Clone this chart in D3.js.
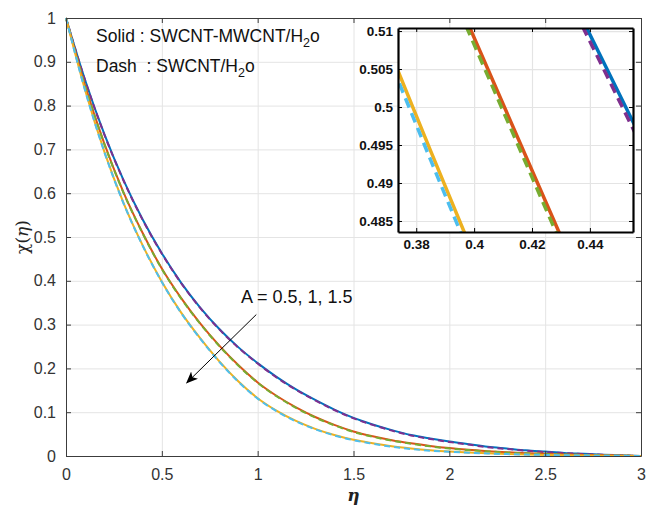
<!DOCTYPE html>
<html lang="en">
<head>
  <meta charset="UTF-8">
  <title>chi(eta) profiles</title>
  <script src="https://cdn.jsdelivr.net/npm/d3@7"></script>
  <style>
    body { margin: 0; background: #fff; }
    svg { display: block; font-family: "Liberation Sans", Arial, sans-serif; }
  </style>
</head>
<body>
<script>
  // eta grid for the main plot
  const eta = [0, 0.1, 0.2, 0.3, 0.4, 0.5, 0.6, 0.7, 0.8, 0.9, 1.0, 1.1, 1.2, 1.3, 1.4, 1.5,
    1.6, 1.7, 1.8, 1.9, 2.0, 2.1, 2.2, 2.3, 2.4, 2.5, 2.6, 2.7, 2.8, 2.9, 3.0];

  // A = 0.5
  const hybridA05 = [1, 0.858, 0.735, 0.630, 0.540, 0.463, 0.396, 0.339, 0.290, 0.248, 0.212, 0.180, 0.152, 0.128, 0.106, 0.087,
    0.072, 0.059, 0.048, 0.040, 0.033, 0.027, 0.021, 0.017, 0.013, 0.010, 0.007, 0.005, 0.003, 0.0015, 0];
  const monoA05 = [1, 0.857, 0.734, 0.629, 0.539, 0.462, 0.395, 0.338, 0.289, 0.247, 0.211, 0.179, 0.151, 0.127, 0.105, 0.086,
    0.071, 0.058, 0.047, 0.039, 0.032, 0.026, 0.020, 0.016, 0.012, 0.009, 0.0065, 0.0045, 0.0028, 0.0014, 0];
  // A = 1
  const hybridA10 = [1, 0.845, 0.713, 0.602, 0.509, 0.428, 0.361, 0.303, 0.252, 0.207, 0.168, 0.137, 0.111, 0.089, 0.071, 0.056,
    0.045, 0.036, 0.029, 0.023, 0.018, 0.014, 0.011, 0.0085, 0.0065, 0.005, 0.0035, 0.0025, 0.0015, 0.0007, 0];
  const monoA10 = [1, 0.844, 0.712, 0.601, 0.508, 0.427, 0.360, 0.302, 0.251, 0.206, 0.167, 0.136, 0.110, 0.088, 0.070, 0.055,
    0.044, 0.035, 0.028, 0.022, 0.017, 0.0135, 0.0105, 0.008, 0.006, 0.0046, 0.0033, 0.0023, 0.0014, 0.0006, 0];
  // A = 1.5
  const hybridA15 = [1, 0.835, 0.695, 0.578, 0.481, 0.398, 0.328, 0.269, 0.216, 0.170, 0.132, 0.103, 0.080, 0.062, 0.048, 0.037,
    0.029, 0.022, 0.017, 0.013, 0.010, 0.0078, 0.006, 0.0045, 0.0034, 0.0025, 0.0018, 0.0012, 0.0007, 0.0003, 0];
  const monoA15 = [1, 0.834, 0.694, 0.577, 0.480, 0.397, 0.327, 0.268, 0.215, 0.169, 0.131, 0.102, 0.079, 0.061, 0.047, 0.036,
    0.028, 0.021, 0.016, 0.012, 0.0095, 0.0074, 0.0057, 0.0043, 0.0032, 0.0024, 0.0017, 0.0011, 0.0006, 0.0003, 0];

  // zoomed inset
  const insetEtaA15 = [0.370, 0.385, 0.400];
  const insetHybridA15 = [0.5082, 0.4942, 0.4804];
  const insetMonoA15 = [0.5070, 0.4930, 0.4792];
  const insetEtaA10 = [0.395, 0.410, 0.425, 0.435];
  const insetHybridA10 = [0.5135, 0.5004, 0.4873, 0.4786];
  const insetMonoA10 = [0.5126, 0.4995, 0.4864, 0.4777];
  const insetEtaA05 = [0.435, 0.445, 0.460];
  const insetHybridA05 = [0.5134, 0.5057, 0.4941];
  const insetMonoA05 = [0.5125, 0.5048, 0.4932];

  const xTicks = [0, 0.5, 1, 1.5, 2, 2.5, 3];
  const yTicks = [0, 0.1, 0.2, 0.3, 0.4, 0.5, 0.6, 0.7, 0.8, 0.9, 1];
  const insetXTicks = [0.38, 0.40, 0.42, 0.44];
  const insetYTicks = [0.485, 0.49, 0.495, 0.5, 0.505, 0.51];

  const width = 646, height = 508;
  const margin = {top: 18, right: 5, bottom: 52, left: 66};
  const axisColor = '#3c3c3c';
  const gridColor = '#e4e4e4';
  const col = {blue: '#0072BD', red: '#D95319', yellow: '#EDB120', purple: '#7E2F8E', green: '#77AC30', cyan: '#4DBEEE'};

  const svg = d3.select('body').append('svg').attr('width', width).attr('height', height);

  const x = d3.scaleLinear().domain([0, 3]).range([margin.left, width - margin.right]);
  const y = d3.scaleLinear().domain([0, 1]).range([height - margin.bottom, margin.top]);

  // grid
  svg.append('g')
    .attr('transform', `translate(0,${y(0)})`)
    .call(d3.axisBottom(x).tickValues(xTicks).tickSize(-(y(0) - y(1))).tickFormat(''))
    .call(g => g.select('.domain').remove())
    .call(g => g.selectAll('line').attr('stroke', gridColor));
  svg.append('g')
    .attr('transform', `translate(${x(0)},0)`)
    .call(d3.axisLeft(y).tickValues(yTicks).tickSize(-(x(3) - x(0))).tickFormat(''))
    .call(g => g.select('.domain').remove())
    .call(g => g.selectAll('line').attr('stroke', gridColor));

  const series = [
    {e: eta, v: hybridA05, c: col.blue, dash: null},
    {e: eta, v: monoA05, c: col.purple, dash: '6,4'},
    {e: eta, v: hybridA10, c: col.red, dash: null},
    {e: eta, v: monoA10, c: col.green, dash: '6,4'},
    {e: eta, v: hybridA15, c: col.yellow, dash: null},
    {e: eta, v: monoA15, c: col.cyan, dash: '6,4'}
  ];

  const line = d3.line()
    .x(d => x(d[0]))
    .y(d => y(d[1]))
    .curve(d3.curveMonotoneX);

  series.forEach(s => {
    svg.append('path')
      .datum(s.e.map((e, i) => [e, s.v[i]]))
      .attr('fill', 'none')
      .attr('stroke', s.c)
      .attr('stroke-width', 2)
      .attr('stroke-dasharray', s.dash)
      .attr('d', line);
  });

  // axes (matlab box, ticks inside)
  const tickFont = g => g.selectAll('text').attr('fill', '#333').style('font-size', '16px');
  svg.append('g')
    .attr('transform', `translate(0,${y(0)})`)
    .call(d3.axisBottom(x).tickValues(xTicks).tickSizeInner(-5).tickSizeOuter(0).tickPadding(13).tickFormat(d3.format('')))
    .call(g => g.selectAll('line,path').attr('stroke', axisColor))
    .call(tickFont);
  svg.append('g')
    .attr('transform', `translate(${x(0)},0)`)
    .call(d3.axisLeft(y).tickValues(yTicks).tickSizeInner(-5).tickSizeOuter(0).tickPadding(10).tickFormat(d3.format('')))
    .call(g => g.selectAll('line,path').attr('stroke', axisColor))
    .call(tickFont);
  svg.append('g')
    .attr('transform', `translate(0,${y(1)})`)
    .call(d3.axisTop(x).tickValues(xTicks).tickSizeInner(-5).tickSizeOuter(0).tickFormat(''))
    .call(g => g.selectAll('line,path').attr('stroke', axisColor));
  svg.append('g')
    .attr('transform', `translate(${x(3)},0)`)
    .call(d3.axisRight(y).tickValues(yTicks).tickSizeInner(-5).tickSizeOuter(0).tickFormat(''))
    .call(g => g.selectAll('line,path').attr('stroke', axisColor));

  // axis labels
  svg.append('text')
    .attr('x', x(1.5)).attr('y', 501)
    .attr('text-anchor', 'middle')
    .style('font-family', '"DejaVu Serif", serif')
    .style('font-size', '17px').style('font-style', 'italic').style('font-weight', 'bold')
    .attr('fill', '#222')
    .text('η');
  const yl = svg.append('text')
    .attr('transform', `translate(28,${y(0.5)}) rotate(-90)`)
    .attr('text-anchor', 'middle')
    .style('font-size', '17px')
    .attr('fill', '#222');
  yl.append('tspan').style('font-family', '"DejaVu Serif", serif').text('χ(');
  yl.append('tspan').style('font-family', '"DejaVu Serif", serif').style('font-style', 'italic').text('η');
  yl.append('tspan').style('font-family', '"DejaVu Serif", serif').text(')');

  // legend text
  function h2o(t) {
    t.append('tspan').text('H');
    t.append('tspan').attr('dy', 5).style('font-size', '12.5px').text('2');
    t.append('tspan').attr('dy', -5).text('o');
  }
  const l1 = svg.append('text').attr('x', 96).attr('y', 42).style('font-size', '17.5px').attr('fill', '#111');
  l1.append('tspan').text('Solid : SWCNT-MWCNT/');
  h2o(l1);
  const l2 = svg.append('text').attr('x', 96).attr('y', 72).style('font-size', '17.5px').attr('fill', '#111')
    .attr('xml:space', 'preserve');
  l2.append('tspan').text('Dash  : SWCNT/');
  h2o(l2);

  // annotation arrow
  svg.append('defs').append('marker')
    .attr('id', 'arr').attr('viewBox', '0 0 12 10').attr('refX', 11).attr('refY', 5)
    .attr('markerWidth', 12).attr('markerHeight', 10).attr('markerUnits', 'userSpaceOnUse')
    .attr('orient', 'auto')
    .append('path').attr('d', 'M0,0 L12,5 L0,10 L3,5 Z').attr('fill', '#000');
  svg.append('line')
    .attr('x1', x(0.993)).attr('y1', y(0.323))
    .attr('x2', x(0.63)).attr('y2', y(0.167))
    .attr('stroke', '#000').attr('stroke-width', 1)
    .attr('marker-end', 'url(#arr)');
  svg.append('text')
    .attr('x', 241).attr('y', 303)
    .style('font-size', '18px').attr('fill', '#111')
    .attr('xml:space', 'preserve')
    .text('A = 0.5, 1, 1.5');

  // inset
  const ix = d3.scaleLinear().domain([0.3737, 0.4549]).range([398, 633]);
  const iy = d3.scaleLinear().domain([0.48355, 0.5104]).range([232, 28]);
  const inset = svg.append('g');
  inset.append('rect')
    .attr('x', ix.range()[0]).attr('y', iy.range()[1])
    .attr('width', ix.range()[1] - ix.range()[0]).attr('height', iy.range()[0] - iy.range()[1])
    .attr('fill', '#fff');
  inset.append('g')
    .attr('transform', `translate(0,${iy.range()[0]})`)
    .call(d3.axisBottom(ix).tickValues(insetXTicks).tickSize(-(iy.range()[0] - iy.range()[1])).tickFormat(''))
    .call(g => g.select('.domain').remove())
    .call(g => g.selectAll('line').attr('stroke', gridColor).attr('stroke-width', 1.2));
  inset.append('g')
    .attr('transform', `translate(${ix.range()[0]},0)`)
    .call(d3.axisLeft(iy).tickValues(insetYTicks).tickSize(-(ix.range()[1] - ix.range()[0])).tickFormat(''))
    .call(g => g.select('.domain').remove())
    .call(g => g.selectAll('line').attr('stroke', gridColor).attr('stroke-width', 1.2));

  inset.append('clipPath').attr('id', 'insetClip')
    .append('rect')
    .attr('x', ix.range()[0]).attr('y', iy.range()[1])
    .attr('width', ix.range()[1] - ix.range()[0]).attr('height', iy.range()[0] - iy.range()[1]);

  const insetSeries = [
    {e: insetEtaA05, v: insetHybridA05, c: col.blue, dash: null},
    {e: insetEtaA05, v: insetMonoA05, c: col.purple, dash: '10,6'},
    {e: insetEtaA10, v: insetHybridA10, c: col.red, dash: null},
    {e: insetEtaA10, v: insetMonoA10, c: col.green, dash: '10,6'},
    {e: insetEtaA15, v: insetHybridA15, c: col.yellow, dash: null},
    {e: insetEtaA15, v: insetMonoA15, c: col.cyan, dash: '10,6'}
  ];
  const iline = d3.line().x(d => ix(d[0])).y(d => iy(d[1]));
  const plotInset = inset.append('g').attr('clip-path', 'url(#insetClip)');
  insetSeries.forEach(s => {
    plotInset.append('path')
      .datum(s.e.map((e, i) => [e, s.v[i]]))
      .attr('fill', 'none')
      .attr('stroke', s.c)
      .attr('stroke-width', 3.5)
      .attr('stroke-dasharray', s.dash)
      .attr('d', iline);
  });

  const insetFont = g => g.selectAll('text').attr('fill', '#111').style('font-size', '13.5px').style('font-weight', 'bold');
  inset.append('g')
    .attr('transform', `translate(0,${iy.range()[0]})`)
    .call(d3.axisBottom(ix).tickValues(insetXTicks).tickSizeInner(-4).tickSizeOuter(0).tickPadding(7).tickFormat(d3.format('')))
    .call(g => g.select('.domain').attr('stroke-width', 2.2))
    .call(g => g.selectAll('line,path').attr('stroke', '#000'))
    .call(insetFont);
  inset.append('g')
    .attr('transform', `translate(${ix.range()[0]},0)`)
    .call(d3.axisLeft(iy).tickValues(insetYTicks).tickSizeInner(-4).tickSizeOuter(0).tickPadding(5).tickFormat(d3.format('')))
    .call(g => g.select('.domain').attr('stroke-width', 2.2))
    .call(g => g.selectAll('line,path').attr('stroke', '#000'))
    .call(insetFont);
  inset.append('g')
    .attr('transform', `translate(0,${iy.range()[1]})`)
    .call(d3.axisTop(ix).tickValues(insetXTicks).tickSizeInner(-4).tickSizeOuter(0).tickFormat(''))
    .call(g => g.select('.domain').attr('stroke-width', 2.2))
    .call(g => g.selectAll('line,path').attr('stroke', '#000'));
  inset.append('g')
    .attr('transform', `translate(${ix.range()[1]},0)`)
    .call(d3.axisRight(iy).tickValues(insetYTicks).tickSizeInner(-4).tickSizeOuter(0).tickFormat(''))
    .call(g => g.select('.domain').attr('stroke-width', 2.2))
    .call(g => g.selectAll('line,path').attr('stroke', '#000'));
</script>
</body>
</html>
